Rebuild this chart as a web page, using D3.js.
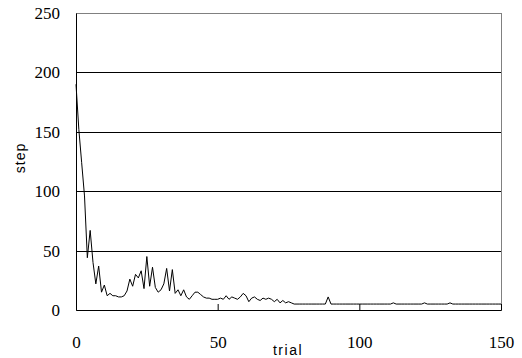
<!DOCTYPE html>
<html>
<head>
<meta charset="utf-8">
<script src="https://cdn.jsdelivr.net/npm/d3@7"></script>
<style>
  body { margin: 0; background: #fff; }
  svg { display: block; }
</style>
</head>
<body>
<div id="chart"></div>
<script>
// steps per trial
const steps = [
  190, 152, 124, 96, 44, 67, 40, 22, 37, 15,
  21, 12, 14, 12, 12, 11, 11, 12, 16, 26,
  20, 30, 27, 33, 18, 45, 20, 36, 19, 15,
  17, 22, 35, 16, 34, 14, 17, 12, 17, 11,
  9, 12, 15, 15, 13, 11, 10, 10, 9, 9,
  9, 10, 9, 12, 9, 11, 10, 9, 11, 14,
  12, 7, 10, 11, 9, 8, 10, 9, 10, 9,
  7, 9, 6, 8, 6, 7, 6, 5, 5, 5,
  5, 5, 5, 5, 5, 5, 5, 5, 5, 11,
  5, 5, 5, 5, 5, 5, 5, 5, 5, 5,
  5, 5, 5, 5, 5, 5, 5, 5, 5, 5,
  5, 5, 6, 5, 5, 5, 5, 5, 5, 5,
  5, 5, 5, 6, 5, 5, 5, 5, 5, 5,
  5, 5, 6, 5, 5, 5, 5, 5, 5, 5,
  5, 5, 5, 5, 5, 5, 5, 5, 5, 5,
  5
];
const xTicks = [0, 50, 100, 150];
const yTicks = [0, 50, 100, 150, 200, 250];

const width = 522, height = 358;
const margin = { top: 13, right: 21, bottom: 48, left: 76 };
const w = width - margin.left - margin.right;
const h = height - margin.top - margin.bottom;
const serif = 'Liberation Serif, DejaVu Serif, serif';

const svg = d3.select('#chart').append('svg')
  .attr('width', width)
  .attr('height', height);

const g = svg.append('g').attr('transform', `translate(${margin.left},${margin.top})`);
const x = d3.scaleLinear().domain([0, 150]).range([0, w]);
const y = d3.scaleLinear().domain([0, 250]).range([h, 0]);

// frame
g.append('rect')
  .attr('x', 0.5).attr('y', 0.5)
  .attr('width', w).attr('height', h)
  .attr('fill', 'none')
  .attr('stroke', '#808080');

// gridlines
g.selectAll('.grid')
  .data(yTicks.filter(d => d > 0 && d < 250))
  .enter()
  .append('line')
  .attr('class', 'grid')
  .attr('x1', 0).attr('x2', w)
  .attr('y1', d => Math.round(y(d)) + 0.5)
  .attr('y2', d => Math.round(y(d)) + 0.5)
  .attr('stroke', '#000');

const line = d3.line()
  .x((d, i) => x(i))
  .y(d => y(d));

g.append('path')
  .datum(steps)
  .attr('d', line)
  .attr('fill', 'none')
  .attr('stroke', '#000')
  .attr('stroke-width', 1);

// axes
const xAxis = g.append('g')
  .attr('transform', `translate(0,${h})`)
  .call(d3.axisBottom(x).tickValues(xTicks).tickSizeInner(-6).tickSizeOuter(0).tickPadding(26));
const yAxis = g.append('g')
  .call(d3.axisLeft(y).tickValues(yTicks).tickSizeInner(0).tickSizeOuter(0).tickPadding(16));

[xAxis, yAxis].forEach(a => {
  a.attr('font-family', serif).attr('font-size', 17);
  a.select('.domain').attr('stroke', '#000');
  a.selectAll('line').attr('stroke', '#000');
  a.selectAll('text').style('font-family', serif).style('font-size', '17px').attr('fill', '#000');
});

svg.append('text')
  .attr('x', 288).attr('y', 355)
  .attr('text-anchor', 'middle')
  .style('font-family', 'Liberation Sans, Arial, sans-serif')
  .style('font-size', '14px')
  .attr('letter-spacing', 1.5)
  .text('trial');

svg.append('text')
  .attr('transform', 'translate(25,158) rotate(-90)')
  .attr('text-anchor', 'middle')
  .style('font-family', 'Liberation Sans, Arial, sans-serif')
  .style('font-size', '14px')
  .attr('letter-spacing', 1)
  .text('step');
</script>
</body>
</html>
